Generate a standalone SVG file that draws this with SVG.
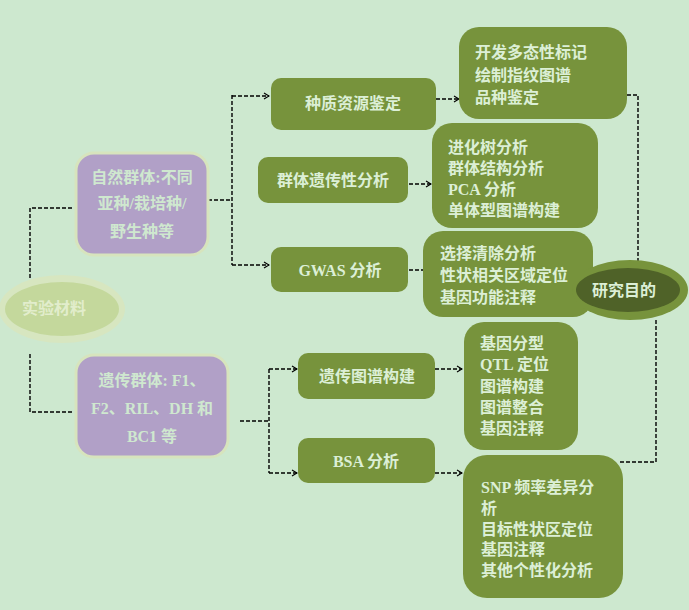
<svg xmlns="http://www.w3.org/2000/svg" width="689" height="610" viewBox="0 0 689 610">
<defs>
<style>
.t{font-family:"Liberation Serif","Noto Sans CJK SC",serif;font-weight:bold;font-size:16px;fill:#dcefd6}
.pt{font-family:"Liberation Serif","Noto Sans CJK SC",serif;font-weight:bold;font-size:16px;fill:#cfe8cf;text-anchor:middle}
.g{fill:#77933c}
.p{fill:#b1a0c7;stroke:#d7e4bd;stroke-width:3}
.c{fill:none;stroke:#000;stroke-width:1.4;stroke-dasharray:4 2}
.m{text-anchor:middle}
</style>
<marker id="ah" markerWidth="7" markerHeight="8" refX="6" refY="4" orient="auto" markerUnits="userSpaceOnUse">
<path d="M1,1 L6,4 L1,7" fill="none" stroke="#000" stroke-width="1.2"/>
</marker>
</defs>
<rect width="689" height="610" fill="#cde8cf"/>

<g id="connectors">
<path class="c" d="M30,278 V208 H73"/>
<path class="c" d="M30,354 V412 H73"/>
<path class="c" d="M208,200 H232"/>
<path class="c" d="M232,95 V265"/>
<path class="c" d="M232,96 H269" marker-end="url(#ah)"/>
<path class="c" d="M232,265 H269" marker-end="url(#ah)"/>
<path class="c" d="M409,184 H431" marker-end="url(#ah)"/>
<path class="c" d="M409,270 H436" marker-end="url(#ah)"/>
<path class="c" d="M436,99 H459" marker-end="url(#ah)"/>
<path class="c" d="M627,95 H638 V261"/>
<path class="c" d="M656,320 V462 H618"/>
<path class="c" d="M240,421 H269"/>
<path class="c" d="M269,369 V473"/>
<path class="c" d="M269,369 H297" marker-end="url(#ah)"/>
<path class="c" d="M269,473 H297" marker-end="url(#ah)"/>
<path class="c" d="M435,369 H462" marker-end="url(#ah)"/>
<path class="c" d="M435,473 H462" marker-end="url(#ah)"/>
</g>

<g id="n-material">
<ellipse cx="62" cy="309" rx="63" ry="34" fill="#d7e6c0"/>
<ellipse cx="62" cy="309" rx="57" ry="27" fill="#c4d89c"/>
<text class="t m" x="54" y="314" style="fill:#e2edcc">实验材料</text>
</g>

<g id="n-natural">
<rect class="p" x="76" y="153" width="132" height="102" rx="18"/>
<text class="pt" x="142" y="183">自然群体:不同</text>
<text class="pt" x="142" y="209">亚种/栽培种/</text>
<text class="pt" x="142" y="237">野生种等</text>
</g>

<g id="n-genetic">
<rect class="p" x="76" y="355" width="152" height="102" rx="18"/>
<text class="pt" x="152" y="386">遗传群体: F1、</text>
<text class="pt" x="152" y="414">F2、RIL、DH 和</text>
<text class="pt" x="152" y="442">BC1 等</text>
</g>

<g id="n-germplasm">
<rect class="g" x="271" y="78" width="165" height="52" rx="10"/>
<text class="t m" x="353" y="109">种质资源鉴定</text>
</g>

<g id="n-popgen">
<rect class="g" x="258" y="157" width="150" height="46" rx="10"/>
<text class="t m" x="333" y="186">群体遗传性分析</text>
</g>

<g id="n-gwas">
<rect class="g" x="271" y="247" width="137" height="45" rx="10"/>
<text class="t m" x="340" y="276">GWAS 分析</text>
</g>

<g id="n-map">
<rect class="g" x="298" y="353" width="137" height="46" rx="10"/>
<text class="t m" x="367" y="382">遗传图谱构建</text>
</g>

<g id="n-bsa">
<rect class="g" x="298" y="438" width="137" height="45" rx="10"/>
<text class="t m" x="366" y="467">BSA 分析</text>
</g>

<g id="n-resA">
<rect class="g" x="459" y="27" width="168" height="92" rx="20"/>
<text class="t" x="475" y="58">开发多态性标记</text>
<text class="t" x="475" y="81">绘制指纹图谱</text>
<text class="t" x="475" y="103">品种鉴定</text>
</g>

<g id="n-resB">
<rect class="g" x="432" y="123" width="166" height="105" rx="20"/>
<text class="t" x="448" y="153">进化树分析</text>
<text class="t" x="448" y="174">群体结构分析</text>
<text class="t" x="448" y="195">PCA 分析</text>
<text class="t" x="448" y="216">单体型图谱构建</text>
</g>

<g id="n-resC">
<rect class="g" x="423" y="231" width="170" height="86" rx="20"/>
<text class="t" x="440" y="259">选择清除分析</text>
<text class="t" x="440" y="281">性状相关区域定位</text>
<text class="t" x="440" y="303">基因功能注释</text>
</g>

<g id="n-purpose">
<ellipse cx="630" cy="290" rx="58" ry="30" fill="#77933c"/>
<ellipse cx="628" cy="290" rx="52" ry="22" fill="#4f6228"/>
<text class="t m" x="624" y="296">研究目的</text>
</g>

<g id="n-resD">
<rect class="g" x="464" y="322" width="114" height="128" rx="20"/>
<text class="t" x="480" y="349">基因分型</text>
<text class="t" x="480" y="370">QTL 定位</text>
<text class="t" x="480" y="392">图谱构建</text>
<text class="t" x="480" y="413">图谱整合</text>
<text class="t" x="480" y="434">基因注释</text>
</g>

<g id="n-resE">
<rect class="g" x="463" y="455" width="160" height="143" rx="24"/>
<text class="t" x="481" y="493">SNP 频率差异分</text>
<text class="t" x="481" y="514">析</text>
<text class="t" x="481" y="535">目标性状区定位</text>
<text class="t" x="481" y="555">基因注释</text>
<text class="t" x="481" y="576">其他个性化分析</text>
</g>
</svg>
